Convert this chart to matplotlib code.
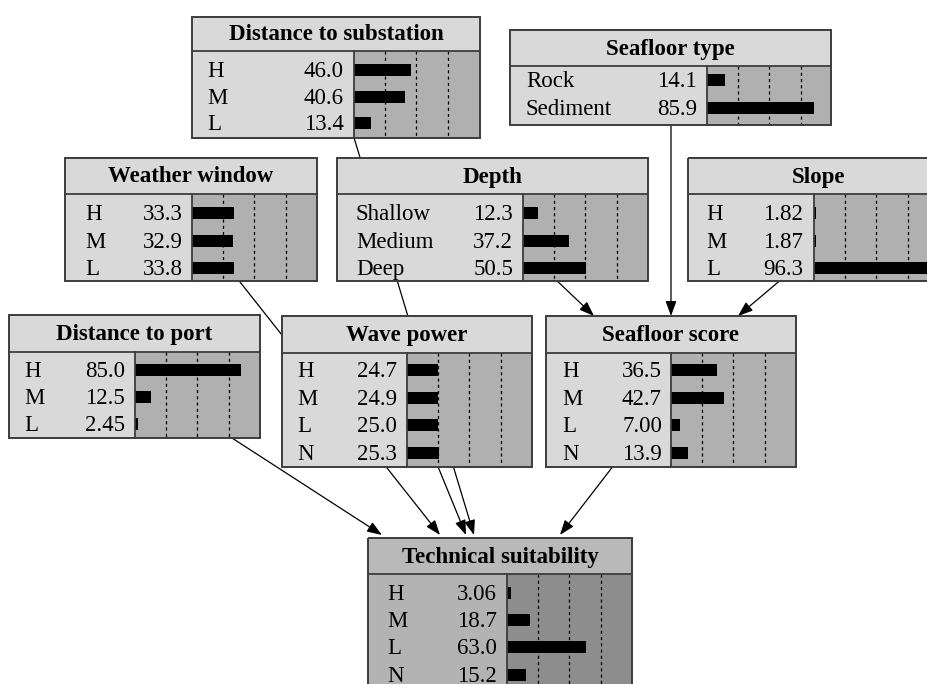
import matplotlib.pyplot as plt
from matplotlib.patches import Rectangle

# node beliefs (percent)
substation_states = ['H', 'M', 'L']
substation_vals = [46.0, 40.6, 13.4]
seafloor_type_states = ['Rock', 'Sediment']
seafloor_type_vals = [14.1, 85.9]
weather_states = ['H', 'M', 'L']
weather_vals = [33.3, 32.9, 33.8]
depth_states = ['Shallow', 'Medium', 'Deep']
depth_vals = [12.3, 37.2, 50.5]
slope_states = ['H', 'M', 'L']
slope_vals = [1.82, 1.87, 96.3]
port_states = ['H', 'M', 'L']
port_vals = [85.0, 12.5, 2.45]
wave_states = ['H', 'M', 'L', 'N']
wave_vals = [24.7, 24.9, 25.0, 25.3]
score_states = ['H', 'M', 'L', 'N']
score_vals = [36.5, 42.7, 7.00, 13.9]
tech_states = ['H', 'M', 'L', 'N']
tech_vals = [3.06, 18.7, 63.0, 15.2]

nodes = [
    ('Distance to substation', substation_states, substation_vals),
    ('Seafloor type', seafloor_type_states, seafloor_type_vals),
    ('Weather window', weather_states, weather_vals),
    ('Depth', depth_states, depth_vals),
    ('Slope', slope_states, slope_vals),
    ('Distance to port', port_states, port_vals),
    ('Wave power', wave_states, wave_vals),
    ('Seafloor score', score_states, score_vals),
    ('Technical suitability', tech_states, tech_vals),
]

# layout in pixels: left, top, right, title bottom, bottom, bar start, label x, value x, first row, row step
layout = {
    'Distance to substation': (192, 17, 480, 51, 138, 354, 207, 344, 70, 26.7),
    'Seafloor type': (510, 30, 831, 66, 125, 707, 526, 697, 80, 28),
    'Weather window': (65, 158, 317, 194, 281, 192, 85, 183, 213, 27.5),
    'Depth': (337, 158, 648, 194, 281, 523, 356, 513, 213, 27.5),
    'Slope': (688, 158, 950, 194, 281, 814, 706, 803, 213, 27.5),
    'Distance to port': (9, 315, 260, 352, 438, 135, 24, 125, 370, 27),
    'Wave power': (282, 316, 532, 353, 467, 407, 297, 397, 370, 27.7),
    'Seafloor score': (546, 316, 796, 353, 467, 671, 562, 662, 370, 27.7),
    'Technical suitability': (368, 538, 632, 574, 700, 507, 387, 497, 593, 27.2),
}

# links (start, end) in pixels
links = [
    ((232, 438), (382, 535)),
    ((191, 220), (440, 535)),
    ((407, 391), (466, 535)),
    ((336, 78), (474, 535)),
    ((671, 391), (560, 535)),
    ((493, 220), (594, 316)),
    ((671, 78), (671, 316)),
    ((828, 240), (738, 316)),
]

def fmt(v):
    return f'{v:.1f}' if v >= 10 else f'{v:.2f}'

fig = plt.figure(figsize=(9.28, 6.84), dpi=100)
ax = fig.add_axes([0, 0, 1, 1])
ax.set_xlim(0, 928)
ax.set_ylim(684, 0)
ax.axis('off')

for (x0, y0), (x1, y1) in links:
    ax.annotate('', xy=(x1, y1), xytext=(x0, y0),
                arrowprops=dict(arrowstyle='-|>,head_length=0.6,head_width=0.22',
                                mutation_scale=15, color='black', lw=0.9,
                                shrinkA=0, shrinkB=0), zorder=1)

serif = 'Liberation Serif'
edge = '#3c3c3c'
for name, states, vals in nodes:
    L, T, R, TB, B, BS, LX, VX, Y0, STEP = layout[name]
    if name == 'Technical suitability':
        c_title, c_lab, c_bar = '#b9b9b9', '#b3b3b3', '#8d8d8d'
    else:
        c_title, c_lab, c_bar = '#d9d9d9', '#d9d9d9', '#b0b0b0'
    ax.add_patch(Rectangle((L, T), R - L, TB - T, facecolor=c_title, edgecolor='none', zorder=2))
    ax.add_patch(Rectangle((L, TB), BS - L, B - TB, facecolor=c_lab, edgecolor='none', zorder=2))
    ax.add_patch(Rectangle((BS, TB), R - BS, B - TB, facecolor=c_bar, edgecolor='none', zorder=2))
    ax.vlines([BS + 31.25 * k for k in (1, 2, 3)], TB, B, colors='black',
              linestyles=(0, (2.5, 2.5)), lw=0.9, zorder=3)
    ys = [Y0 + STEP * i for i in range(len(states))]
    ax.barh(ys, [v * 1.25 for v in vals], left=BS, height=12, color='black', zorder=4)
    ax.plot([L, R], [TB, TB], color=edge, lw=1.3, zorder=5)
    ax.plot([BS, BS], [TB, B], color=edge, lw=1.3, zorder=5)
    ax.add_patch(Rectangle((L, T), R - L, B - T, facecolor='none', edgecolor=edge, lw=1.4, zorder=5))
    ax.text((L + R) / 2, (T + TB) / 2 + 1, name, ha='center', va='center',
            fontsize=16.5, fontweight='bold', family=serif, zorder=6)
    for y, s, v in zip(ys, states, vals):
        ax.text(LX, y + 7, s, ha='left', va='baseline', fontsize=16.5, family=serif, zorder=6)
        ax.text(VX, y + 7, fmt(v), ha='right', va='baseline', fontsize=16.5, family=serif, zorder=6)

fig.savefig('out.png', dpi=100)
